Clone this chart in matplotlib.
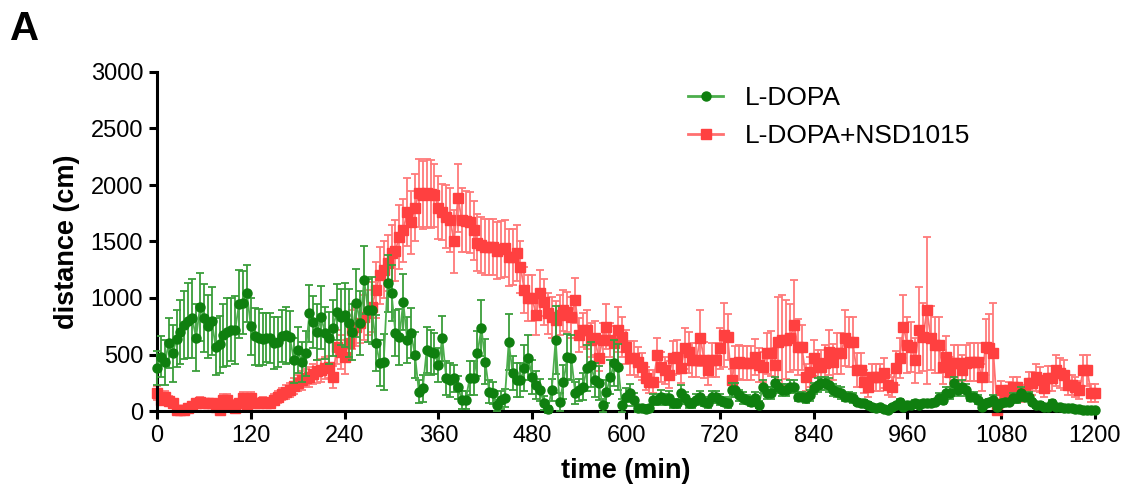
import numpy as np
import matplotlib
matplotlib.use("Agg")
import matplotlib.pyplot as plt
from matplotlib.lines import Line2D

plt.rcParams["font.family"] = ["Liberation Sans", "DejaVu Sans"]

# ── Data: 5-min bins from 0 to 1200 min ──────────────────────────────────────
time_min = np.arange(0, 1201, 5)

ldopa_mean = [
    380, 480, 430, 600, 510, 640, 700, 760, 800, 820, 650, 920,
    820, 750, 800, 570, 590, 670, 700, 720, 720, 950, 960, 1040,
    750, 660, 650, 640, 650, 645, 600, 610, 660, 670, 655, 450,
    540, 435, 510, 865, 790, 700, 830, 690, 645, 735, 875, 830,
    850, 780, 700, 955, 780, 1160, 890, 890, 600, 425, 435, 1130,
    1045, 690, 655, 965, 628, 690, 495, 170, 200, 540, 520, 510,
    410, 645, 290, 275, 290, 210, 100, 100, 290, 290, 510, 735,
    435, 170, 160, 50, 100, 115, 610, 335, 275, 275, 380, 470,
    300, 230, 185, 70, 15, 185, 630, 80, 260, 480, 470, 160,
    185, 215, 380, 410, 275, 245, 50, 170, 300, 425, 390, 50,
    125, 160, 100, 25, 25, 15, 25, 100, 100, 125, 100, 115,
    70, 70, 160, 115, 70, 70, 100, 125, 80, 70, 125, 125,
    100, 80, 70, 185, 185, 140, 115, 100, 80, 115, 55, 215,
    160, 160, 245, 215, 185, 185, 215, 215, 125, 125, 115, 140,
    200, 230, 245, 245, 230, 185, 170, 160, 125, 125, 115, 80,
    70, 70, 55, 35, 25, 35, 15, 10, 35, 50, 80, 35,
    55, 55, 70, 55, 70, 70, 70, 80, 115, 100, 160, 160,
    245, 185, 215, 185, 125, 125, 100, 35, 70, 80, 100, 35,
    70, 80, 80, 115, 115, 160, 125, 125, 80, 55, 55, 35,
    35, 70, 35, 35, 25, 25, 25, 15, 15, 10, 10, 10,
    10,
]
ldopa_sem = [
    150, 180, 200, 220, 250, 250, 280, 300, 330, 350, 300, 300,
    300, 280, 300, 250, 250, 280, 300, 280, 300, 300, 280, 250,
    250, 250, 250, 230, 220, 220, 230, 220, 230, 250, 230, 200,
    200, 180, 200, 250, 230, 250, 280, 230, 230, 250, 250, 250,
    280, 300, 250, 300, 280, 300, 280, 300, 250, 200, 250, 250,
    250, 200, 250, 250, 200, 220, 200, 100, 120, 200, 200, 180,
    150, 200, 150, 150, 120, 100, 80, 80, 150, 150, 200, 250,
    200, 100, 100, 50, 80, 80, 250, 150, 150, 150, 200, 200,
    150, 120, 100, 60, 30, 100, 300, 80, 150, 200, 200, 100,
    100, 120, 200, 200, 150, 150, 60, 100, 150, 200, 200, 60,
    80, 80, 60, 30, 30, 20, 30, 50, 50, 60, 50, 60,
    40, 40, 70, 50, 40, 40, 50, 50, 40, 40, 50, 50,
    50, 40, 40, 60, 60, 50, 50, 40, 40, 50, 30, 60,
    50, 50, 60, 60, 50, 50, 60, 60, 40, 40, 40, 50,
    50, 60, 60, 60, 60, 50, 50, 50, 40, 40, 40, 30,
    30, 30, 25, 20, 15, 20, 10, 10, 20, 25, 30, 20,
    25, 25, 30, 25, 30, 30, 30, 30, 40, 40, 50, 50,
    60, 50, 60, 50, 40, 40, 40, 20, 30, 30, 40, 20,
    30, 30, 30, 40, 40, 50, 40, 40, 30, 25, 25, 20,
    20, 25, 20, 20, 15, 15, 15, 10, 10, 10, 10, 10,
    10,
]

nsd_mean = [
    160, 100, 125, 90, 70, 10, 5, 5, 25, 40, 70, 80,
    70, 70, 70, 35, 10, 100, 100, 55, 25, 70, 115, 55,
    115, 70, 70, 80, 70, 70, 100, 125, 150, 170, 185, 220,
    250, 270, 290, 300, 330, 350, 360, 380, 390, 300, 565, 520,
    480, 600, 720, 745, 780, 830, 870, 920, 1070, 1200, 1250, 1310,
    1400, 1420, 1540, 1600, 1760, 1670, 1800, 1930, 1910, 1930, 1920, 1910,
    1800, 1760, 1720, 1690, 1500, 1885, 1690, 1680, 1670, 1600, 1490, 1470,
    1450, 1450, 1450, 1420, 1430, 1440, 1360, 1365, 1400, 1275, 1070, 1000,
    1000, 850, 1045, 965, 865, 830, 805, 850, 890, 875, 830, 980,
    670, 720, 720, 630, 645, 470, 630, 745, 630, 600, 720, 655,
    565, 470, 470, 435, 390, 290, 260, 260, 495, 390, 360, 320,
    470, 480, 380, 555, 520, 450, 450, 645, 450, 360, 450, 450,
    555, 672, 655, 275, 425, 435, 425, 425, 425, 480, 410, 390,
    510, 510, 410, 610, 630, 630, 645, 760, 565, 565, 300, 345,
    470, 390, 390, 425, 520, 435, 510, 510, 645, 610, 610, 360,
    360, 260, 215, 300, 300, 300, 335, 230, 215, 380, 470, 745,
    585, 565, 450, 720, 655, 890, 645, 585, 585, 390, 480, 345,
    425, 425, 360, 425, 435, 435, 435, 300, 565, 555, 510, 5,
    185, 160, 185, 215, 215, 140, 160, 245, 245, 300, 275, 200,
    290, 290, 360, 335, 320, 230, 230, 215, 185, 360, 360, 160,
    160,
]
nsd_sem = [
    60, 50, 50, 40, 40, 20, 10, 10, 20, 30, 40, 40,
    40, 40, 40, 30, 20, 50, 50, 40, 30, 40, 50, 40,
    50, 40, 40, 40, 40, 40, 50, 50, 50, 60, 60, 70,
    70, 80, 80, 90, 90, 100, 100, 100, 100, 100, 150, 150,
    150, 150, 170, 170, 180, 200, 200, 220, 250, 250, 250, 250,
    250, 270, 280, 280, 300, 280, 300, 300, 300, 300, 300, 280,
    280, 250, 280, 280, 280, 300, 280, 270, 270, 260, 250, 250,
    250, 250, 250, 250, 250, 250, 250, 250, 250, 230, 200, 200,
    200, 180, 200, 200, 180, 180, 170, 180, 180, 180, 180, 200,
    150, 150, 170, 150, 150, 120, 150, 200, 150, 150, 200, 180,
    150, 150, 150, 130, 120, 100, 100, 100, 150, 130, 120, 120,
    150, 150, 130, 180, 180, 150, 150, 250, 160, 130, 150, 150,
    180, 280, 200, 100, 150, 150, 150, 150, 150, 160, 150, 130,
    180, 200, 150, 400, 400, 350, 300, 400, 250, 200, 120, 130,
    160, 150, 150, 160, 200, 160, 180, 180, 250, 220, 220, 150,
    150, 100, 90, 120, 120, 120, 130, 90, 90, 150, 180, 280,
    250, 220, 200, 380, 300, 650, 280, 250, 250, 150, 180, 130,
    160, 160, 140, 160, 170, 170, 170, 120, 250, 300, 450, 5,
    80, 60, 70, 90, 90, 60, 70, 100, 100, 120, 110, 80,
    110, 110, 140, 130, 130, 90, 90, 90, 80, 140, 140, 80,
    80,
]

series_labels = ["L-DOPA", "L-DOPA+NSD1015"]
x_ticks = [0, 120, 240, 360, 480, 600, 720, 840, 960, 1080, 1200]
y_ticks = [0, 500, 1000, 1500, 2000, 2500, 3000]

# ── Style ─────────────────────────────────────────────────────────────────────
GREEN_LINE = "#4cae4c"
GREEN_MARK = "#0f7f0f"
GREEN_ERR  = "#3a9e3a"
RED_LINE   = "#ff7070"
RED_MARK   = "#ff4040"
RED_ERR    = "#ff7a7a"

fig = plt.figure(figsize=(11.27, 5.04), dpi=100)
ax = fig.add_axes([157 / 1127, 1 - 411 / 504, 938 / 1127, 339 / 504])

ax.errorbar(time_min, nsd_mean, yerr=nsd_sem, fmt="-s", color=RED_LINE,
            ecolor=RED_ERR, elinewidth=1.3, capsize=3.2, capthick=1.3, lw=1.3,
            ms=6.5, mfc=RED_MARK, mec=RED_MARK, zorder=2, clip_on=False)
ax.errorbar(time_min, ldopa_mean, yerr=ldopa_sem, fmt="-o", color=GREEN_LINE,
            ecolor=GREEN_ERR, elinewidth=1.3, capsize=3.2, capthick=1.3, lw=1.3,
            ms=6.5, mfc=GREEN_MARK, mec=GREEN_MARK, zorder=3, clip_on=False)

ax.set_xlim(0, 1200)
ax.set_ylim(0, 3000)
ax.set_xticks(x_ticks)
ax.set_yticks(y_ticks)
for side in ("top", "right"):
    ax.spines[side].set_visible(False)
for side in ("left", "bottom"):
    ax.spines[side].set_linewidth(2.2)
ax.tick_params(axis="both", direction="out", length=6, width=2.2,
               labelsize=17, colors="black", pad=4)

ax.set_xlabel("time (min)", fontsize=19.5, fontweight="bold", labelpad=8)
ax.set_ylabel("distance (cm)", fontsize=19.5, fontweight="bold", labelpad=8)

handles = [
    Line2D([], [], color=GREEN_LINE, lw=2, marker="o", ms=6.5,
           mfc=GREEN_MARK, mec=GREEN_MARK),
    Line2D([], [], color=RED_LINE, lw=2, marker="s", ms=6.5,
           mfc=RED_MARK, mec=RED_MARK),
]
fig.legend(handles, series_labels, loc="upper left",
           bbox_to_anchor=(664 / 1127, 1 - 62 / 504), frameon=False,
           fontsize=19, handlelength=1.35, handletextpad=0.8,
           labelspacing=0.55)

fig.text(10 / 1127, 1 - 10 / 504, "A", fontsize=29, fontweight="bold",
         va="top", ha="left")

fig.savefig("out.png", dpi=100)
